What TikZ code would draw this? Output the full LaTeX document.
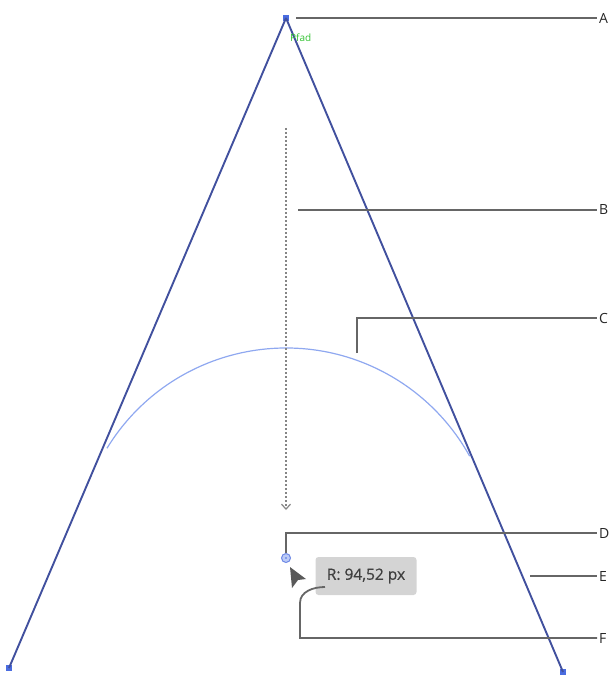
\documentclass[tikz,border=0pt]{standalone}
\usepackage{fontspec}
\setmainfont{Open Sans}
\usetikzlibrary{arrows.meta}
\definecolor{tri}{HTML}{41509E}
\definecolor{arcc}{HTML}{8FA8F0}
\definecolor{lead}{HTML}{666666}
\definecolor{markblue}{HTML}{4A6CE0}
\definecolor{tipbg}{HTML}{D4D4D4}
\begin{document}
\begin{tikzpicture}[x=1pt,y=-1pt,
  leader/.style={draw=lead,line width=1.8pt},
  lbl/.style={anchor=west,inner sep=0pt,font=\fontsize{14}{14}\selectfont,text=black!85},
  sq/.style={fill=markblue,minimum size=6.5pt,inner sep=0pt,draw=none},
  edge/.style={draw=tri,line width=1.9pt}]
\useasboundingbox (0,0) rectangle (613,679);
% triangle vertices
\node[sq] (apex) at (286,18) {};
\node[sq] (bl) at (9,668) {};
\node[sq] (br) at (563,672) {};
\draw[edge] (apex.center) -- (bl.center);
\draw[edge] (apex.center) -- (br.center);
% arc
\coordinate (cen) at (286,558);
\draw[arcc,line width=1.2pt] (cen) ++(-148.5:210) arc[start angle=-148.5,end angle=-29,radius=210];
% dashed arrow
\coordinate (ds) at (286,128);
\coordinate (de) at (286,510);
\draw[lead!80,line width=1.2pt,dash pattern=on 2pt off 2pt,-{Straight Barb[length=5pt,width=9pt,line width=1.2pt]}] (ds) -- (de);
% Pfad
\node[text=green!70!black!80,font=\fontsize{10}{10}\selectfont,inner sep=0pt,anchor=west] (pfad) at (290,38) {Pfad};
% center point
\node[circle,draw=markblue!80,fill=arcc!60,minimum size=9pt,inner sep=0pt,line width=1pt] (pt) at (cen) {};
\fill[markblue] (pt.center) circle (0.9pt);
% cursor
\fill[black!65] (290,567) -- (306,579) -- (298,580) -- (292,588) -- cycle;
% tooltip
\node[fill=tipbg,rounded corners=3pt,minimum width=101pt,minimum height=38pt,inner sep=0pt,font=\fontsize{15.5}{15.5}\selectfont\addfontfeatures{FakeBold=0.6},text=black!75] (tip) at (366,576) {R: 94,52 px};
% labels
\node[lbl] (A) at (599,18) {A};
\node[lbl] (B) at (599,210) {B};
\node[lbl] (C) at (599,318) {C};
\node[lbl] (D) at (599,533) {D};
\node[lbl] (E) at (599,576) {E};
\node[lbl] (F) at (599,638) {F};
% leaders
\coordinate (es) at (530,576);
\draw[leader] (296,18) -- ([xshift=-2pt]A.west);
\draw[leader] (298,210) -- ([xshift=-2pt]B.west);
\draw[leader] (357,353) -- (357,318) -- ([xshift=-2pt]C.west);
\draw[leader] (pt.north) -- (286,533) -- ([xshift=-2pt]D.west);
\draw[leader] (es) -- ([xshift=-2pt]E.west);
\draw[leader] (325,587) to[out=180,in=90] (300,603) -- (300,638) -- ([xshift=-2pt]F.west);
\end{tikzpicture}
\end{document}
